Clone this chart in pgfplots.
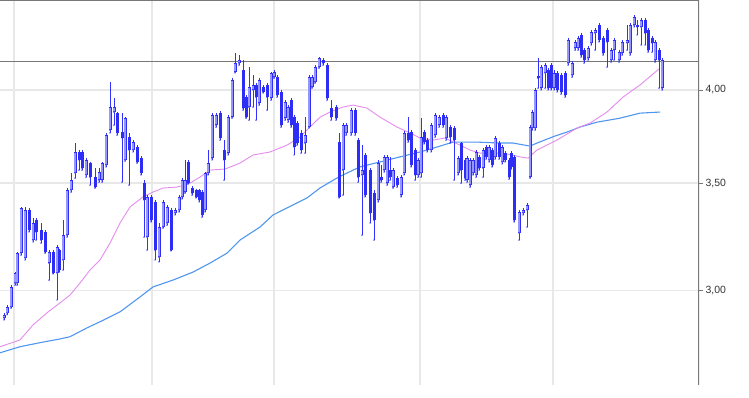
\documentclass[border=0pt]{standalone}
\usepackage{pgfplots}
\usepackage{pgfplotstable}
\pgfplotsset{compat=1.18}
\usepackage{fontspec}
\setmainfont{Liberation Sans}
\definecolor{wick}{RGB}{50,50,255}
\definecolor{bodyc}{RGB}{45,45,245}
\definecolor{hollow}{RGB}{150,150,255}
\definecolor{maPink}{RGB}{228,140,238}
\definecolor{maBlue}{RGB}{80,150,240}
\definecolor{gridc}{RGB}{232,232,232}
\definecolor{framec}{RGB}{120,120,120}

\pgfplotstableread{
x o h l c
4 2.884 2.905 2.876 2.897
7 2.905 2.938 2.897 2.930
11 2.930 3.023 2.925 3.015
15 3.032 3.080 3.023 3.076
17 3.032 3.170 3.023 3.165
21 3.165 3.382 3.156 3.377
25 3.143 3.382 3.134 3.367
29 3.367 3.377 3.263 3.272
33 3.225 3.328 3.216 3.305
36 3.319 3.328 3.225 3.263
41 3.272 3.305 3.211 3.225
45 3.263 3.272 3.165 3.170
49 3.120 3.179 3.045 3.170
53 3.170 3.179 3.072 3.076
57 3.076 3.202 2.959 3.193
59 3.179 3.185 3.080 3.089
63 3.134 3.319 3.089 3.248
67 3.248 3.475 3.239 3.465
71 3.465 3.551 3.455 3.515
75 3.551 3.707 3.525 3.660
79 3.660 3.670 3.566 3.618
82 3.660 3.670 3.566 3.576
86 3.541 3.628 3.530 3.618
90 3.602 3.608 3.490 3.530
95 3.530 3.576 3.475 3.480
99 3.515 3.576 3.505 3.556
102 3.515 3.608 3.505 3.602
106 3.592 3.761 3.582 3.750
110 3.777 4.046 3.761 3.904
114 3.876 3.954 3.804 3.904
117 3.870 3.876 3.750 3.761
122 3.766 3.870 3.505 3.734
125 3.618 3.848 3.612 3.842
129 3.739 3.761 3.490 3.670
133 3.670 3.723 3.660 3.712
137 3.686 3.696 3.602 3.608
141 3.628 3.639 3.541 3.551
144 3.500 3.515 3.239 3.416
147 3.239 3.440 3.179 3.431
151 3.431 3.440 3.310 3.319
155 3.406 3.416 3.134 3.179
159 3.147 3.305 3.125 3.286
163 3.286 3.416 3.281 3.406
167 3.305 3.392 3.295 3.382
171 3.367 3.377 3.175 3.179
175 3.353 3.377 3.343 3.367
179 3.367 3.440 3.358 3.431
182 3.431 3.525 3.421 3.515
185 3.455 3.618 3.450 3.515
188 3.608 3.618 3.495 3.500
192 3.475 3.485 3.440 3.450
196 3.465 3.470 3.426 3.431
199 3.465 3.470 3.406 3.416
202 3.455 3.465 3.333 3.343
205 3.367 3.556 3.358 3.551
208 3.551 3.670 3.541 3.602
212 3.628 3.870 3.618 3.859
216 3.804 3.870 3.793 3.859
220 3.870 3.881 3.723 3.734
224 3.670 3.723 3.515 3.618
228 3.654 3.859 3.644 3.848
232 3.848 4.069 3.842 4.058
235 4.104 4.218 4.099 4.158
239 4.158 4.206 4.146 4.176
243 4.116 4.176 3.887 3.898
246 3.960 3.971 3.842 3.848
249 3.904 4.134 3.831 4.017
253 4.000 4.087 3.904 4.029
256 4.029 4.040 3.831 3.960
259 3.926 4.069 3.915 4.058
263 4.017 4.029 3.983 3.989
267 4.029 4.040 3.887 3.960
271 3.954 4.104 3.943 4.099
274 4.075 4.116 4.069 4.104
277 4.075 4.087 3.960 3.971
281 3.989 4.000 3.793 3.804
285 3.842 3.943 3.831 3.932
288 3.831 3.915 3.820 3.904
291 3.943 3.954 3.793 3.804
294 3.848 3.859 3.644 3.686
297 3.815 3.826 3.696 3.707
301 3.761 3.777 3.654 3.670
305 3.707 3.848 3.654 3.750
309 3.793 4.087 3.788 4.075
312 4.017 4.087 4.011 4.075
315 4.046 4.146 4.040 4.134
319 4.134 4.194 4.128 4.188
323 4.176 4.188 4.146 4.158
327 4.146 4.158 3.943 3.954
331 3.898 3.943 3.831 3.848
336 3.904 3.915 3.831 3.842
339 3.712 3.761 3.426 3.431
343 3.566 3.815 3.440 3.804
346 3.761 3.815 3.750 3.804
351 3.761 3.898 3.750 3.887
355 3.887 3.898 3.750 3.761
358 3.723 3.734 3.505 3.530
362 3.541 3.696 3.248 3.566
365 3.644 3.654 3.431 3.440
370 3.566 3.576 3.305 3.353
374 3.450 3.465 3.225 3.319
378 3.416 3.618 3.406 3.602
381 3.530 3.592 3.505 3.515
384 3.566 3.644 3.556 3.634
387 3.500 3.644 3.490 3.634
390 3.566 3.634 3.515 3.530
393 3.480 3.576 3.475 3.566
397 3.525 3.536 3.480 3.490
401 3.440 3.541 3.431 3.530
404 3.551 3.771 3.541 3.761
408 3.761 3.848 3.712 3.723
411 3.766 3.777 3.582 3.592
415 3.670 3.681 3.515 3.541
418 3.541 3.628 3.530 3.618
421 3.551 3.842 3.530 3.739
424 3.766 3.777 3.702 3.712
427 3.723 3.734 3.660 3.670
431 3.670 3.815 3.660 3.804
435 3.750 3.870 3.739 3.859
439 3.804 3.859 3.793 3.848
443 3.859 3.870 3.793 3.804
446 3.734 3.859 3.723 3.848
450 3.793 3.804 3.707 3.739
454 3.788 3.799 3.515 3.723
458 3.551 3.639 3.541 3.628
461 3.707 3.712 3.500 3.566
465 3.618 3.628 3.515 3.525
467 3.515 3.639 3.505 3.628
470 3.490 3.628 3.480 3.618
473 3.551 3.628 3.541 3.618
476 3.541 3.670 3.530 3.660
479 3.634 3.644 3.566 3.576
483 3.576 3.681 3.530 3.670
486 3.686 3.696 3.623 3.634
489 3.618 3.696 3.608 3.686
492 3.670 3.681 3.582 3.592
495 3.634 3.745 3.623 3.734
499 3.707 3.718 3.623 3.634
502 3.608 3.696 3.597 3.686
505 3.654 3.665 3.608 3.618
509 3.618 3.628 3.520 3.530
511 3.654 3.665 3.571 3.582
514 3.634 3.644 3.310 3.319
519 3.258 3.367 3.225 3.358
523 3.353 3.377 3.343 3.367
527 3.367 3.401 3.286 3.392
530 3.530 3.804 3.525 3.793
532 3.788 3.887 3.777 3.876
535 3.788 4.011 3.777 4.000
538 4.081 4.188 4.011 4.069
541 4.011 4.146 4.000 4.134
545 4.099 4.158 4.011 4.146
548 4.116 4.128 4.000 4.011
551 4.146 4.158 4.000 4.011
554 4.011 4.116 4.000 4.099
557 4.099 4.110 3.989 4.000
561 4.087 4.099 3.977 3.989
565 4.099 4.110 3.960 3.971
568 4.158 4.310 4.146 4.298
572 4.087 4.170 4.075 4.158
575 4.248 4.298 4.236 4.286
578 4.248 4.323 4.236 4.310
581 4.329 4.341 4.194 4.206
584 4.236 4.248 4.158 4.176
588 4.188 4.261 4.176 4.248
591 4.280 4.360 4.267 4.348
595 4.341 4.373 4.236 4.360
599 4.391 4.404 4.286 4.298
603 4.310 4.323 4.206 4.218
607 4.360 4.373 4.134 4.286
611 4.176 4.248 4.164 4.236
614 4.236 4.310 4.176 4.298
619 4.176 4.236 4.164 4.224
622 4.218 4.298 4.206 4.286
627 4.280 4.391 4.236 4.298
630 4.218 4.404 4.206 4.391
634 4.391 4.455 4.379 4.442
637 4.391 4.423 4.329 4.379
641 4.379 4.436 4.267 4.423
645 4.423 4.436 4.267 4.341
648 4.360 4.373 4.224 4.236
652 4.310 4.323 4.224 4.280
655 4.176 4.298 4.164 4.286
659 4.236 4.248 4.011 4.176
662 4.011 4.188 4.000 4.176
}\candles

\pgfplotstableread{
x v
0 2.767
20 2.794
33 2.855
47 2.905
60 2.947
70 2.980
80 3.032
90 3.089
100 3.134
110 3.211
120 3.305
130 3.382
143 3.431
153 3.455
163 3.475
177 3.480
190 3.500
200 3.530
210 3.566
225 3.571
240 3.602
253 3.644
270 3.660
287 3.696
300 3.739
310 3.793
320 3.848
330 3.876
343 3.904
353 3.915
367 3.898
380 3.848
397 3.793
410 3.761
420 3.734
433 3.723
445 3.734
460 3.696
470 3.670
480 3.654
503 3.654
520 3.634
528 3.628
537 3.670
557 3.723
577 3.788
590 3.815
607 3.876
623 3.960
640 4.029
660 4.128
}\maA

\pgfplotstableread{
x v
0 2.743
20 2.767
40 2.783
60 2.798
70 2.807
87 2.843
100 2.868
120 2.909
140 2.972
153 3.015
173 3.045
193 3.080
210 3.120
227 3.165
240 3.225
260 3.286
273 3.343
287 3.377
307 3.426
320 3.475
335 3.520
343 3.541
360 3.582
380 3.608
400 3.634
420 3.660
437 3.686
453 3.712
477 3.712
500 3.707
513 3.707
530 3.691
537 3.707
555 3.745
567 3.766
580 3.793
597 3.820
620 3.842
640 3.870
660 3.876
}\maB

\begin{document}
\begin{tikzpicture}
\path[use as bounding box] (0,-13bp) rectangle (749bp,385bp);
\begin{axis}[
  at={(0,0)}, anchor=south west,
  scale only axis,
  width=699bp, height=385bp,
  xmin=0, xmax=699,
  ymode=log,
  ymin=2.619, ymax=4.552,
  axis line style={draw=none},
  xtick={14,152,274,420,553},
  xticklabel=\empty,
  xtick style={draw=none},
  xmajorgrids, ymajorgrids,
  grid style={color=gridc, line width=1.3bp},
  ytick={3,3.5,4},
  yticklabels={{3,00},{3,50},{4,00}},
  ytick pos=right,
  yticklabel pos=right,
  tick align=outside,
  major tick length=4bp,
  ytick style={draw=framec, line width=0.9bp},
  yticklabel style={font=\fontsize{10.5}{12}\selectfont, text=black!80, xshift=-1bp},
  unbounded coords=discard,
]
% reference line
\addplot[framec, line width=0.9bp, forget plot] coordinates {(0,4.17) (699,4.17)};
% moving averages
\addplot[maBlue, line width=1.1bp, forget plot] table[x=x, y=v] {\maB};
\addplot[maPink, line width=0.9bp, forget plot] table[x=x, y=v] {\maA};
% wicks
\addplot[wick, only marks, mark size=0.45pt, forget plot,
  error bars/.cd, y dir=plus, y explicit, error mark=none,
  error bar style={wick, line width=1bp}]
  table[x=x, y=l, y error plus expr=\thisrow{h}-\thisrow{l}] {\candles};
% bodies
\addplot[bodyc, only marks, mark size=0.45pt, forget plot,
  error bars/.cd, y dir=plus, y explicit, error mark=none,
  error bar style={bodyc, line width=3bp}]
  table[x=x, y expr={min(\thisrow{o},\thisrow{c})}, y error plus expr={abs(\thisrow{c}-\thisrow{o})}] {\candles};
% hollow (rising) candles
\addplot[hollow, only marks, mark size=0.3pt, forget plot,
  x filter/.expression={\thisrow{c}>\thisrow{o} ? x : nan},
  error bars/.cd, y dir=plus, y explicit, error mark=none,
  error bar style={hollow, line width=1.3bp, shorten <=0.9bp, shorten >=0.9bp}]
  table[x=x, y=o, y error plus expr=\thisrow{c}-\thisrow{o}] {\candles};
% frame: top and right
\draw[framec, line width=1.2bp] (rel axis cs:0,1) -- (rel axis cs:1,1) -- (rel axis cs:1,0);
\end{axis}
\end{tikzpicture}
\end{document}
